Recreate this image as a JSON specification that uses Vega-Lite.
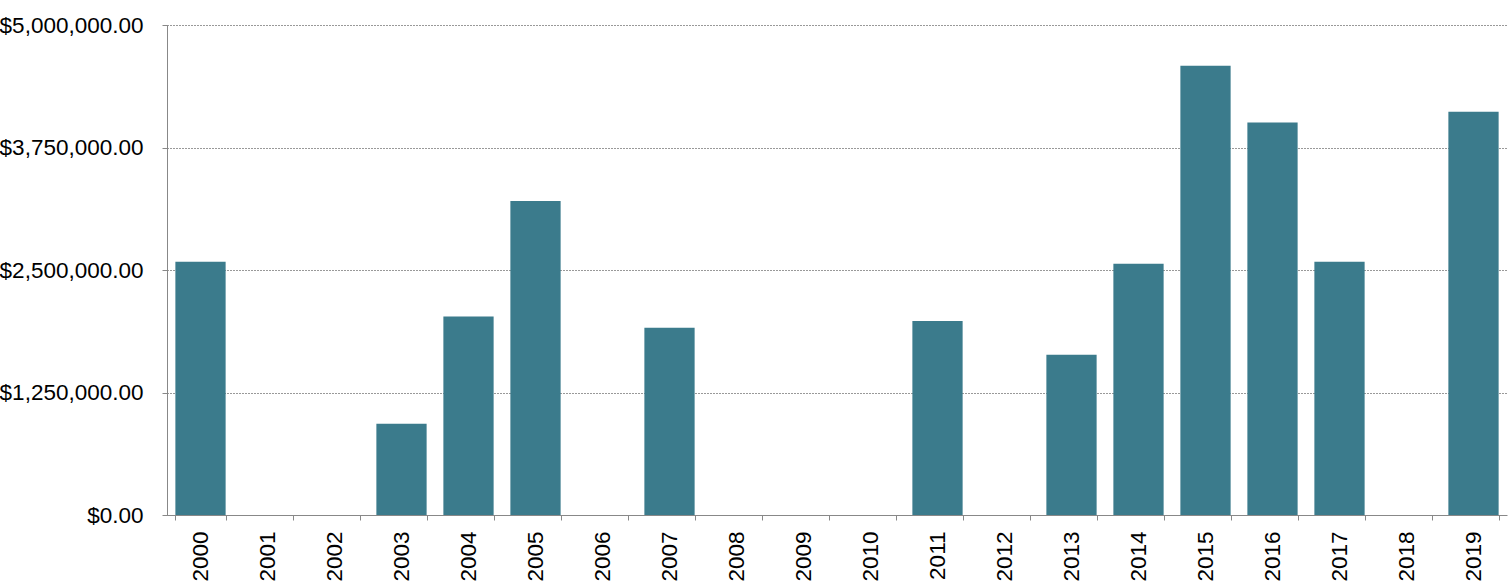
{
  "$schema": "https://vega.github.io/schema/vega-lite/v6.json",
  "width": 1340,
  "height": 490,
  "autosize": {"type": "none"},
  "padding": {"left": 167, "top": 25, "right": 2, "bottom": 66},
  "background": "white",
  "config": {"view": {"stroke": null}, "font": "Liberation Sans"},
  "data": {"values": [
    {"year": "2000", "amount": 2585000},
    {"year": "2001", "amount": 0},
    {"year": "2002", "amount": 0},
    {"year": "2003", "amount": 930000},
    {"year": "2004", "amount": 2025000},
    {"year": "2005", "amount": 3205000},
    {"year": "2006", "amount": 0},
    {"year": "2007", "amount": 1910000},
    {"year": "2008", "amount": 0},
    {"year": "2009", "amount": 0},
    {"year": "2010", "amount": 0},
    {"year": "2011", "amount": 1980000},
    {"year": "2012", "amount": 0},
    {"year": "2013", "amount": 1635000},
    {"year": "2014", "amount": 2565000},
    {"year": "2015", "amount": 4585000},
    {"year": "2016", "amount": 4005000},
    {"year": "2017", "amount": 2585000},
    {"year": "2018", "amount": 0},
    {"year": "2019", "amount": 4115000}
  ]},
  "mark": {"type": "bar", "color": "#3b7b8c"},
  "encoding": {
    "x": {
      "field": "year", "type": "nominal", "sort": null,
      "scale": {"paddingInner": 0.25, "paddingOuter": 0.125},
      "axis": {
        "title": null, "labelAngle": -90, "labelFontSize": 22.5, "labelColor": "#000",
        "labelPadding": 11, "tickBand": "extent", "tickSize": 5, "tickColor": "#888",
        "domainColor": "#888", "grid": false, "labelBaseline": "middle", "labelAlign": "right"
      }
    },
    "y": {
      "field": "amount", "type": "quantitative",
      "scale": {"domain": [0, 5000000], "nice": false},
      "axis": {
        "title": null, "values": [0, 1250000, 2500000, 3750000, 5000000],
        "format": "$,.2f", "labelFontSize": 22.5, "labelColor": "#000",
        "labelPadding": 19, "tickSize": 5, "tickColor": "#888", "domainColor": "#888",
        "grid": true, "gridColor": "#333", "gridDash": [1, 2], "gridWidth": 1
      }
    }
  }
}
